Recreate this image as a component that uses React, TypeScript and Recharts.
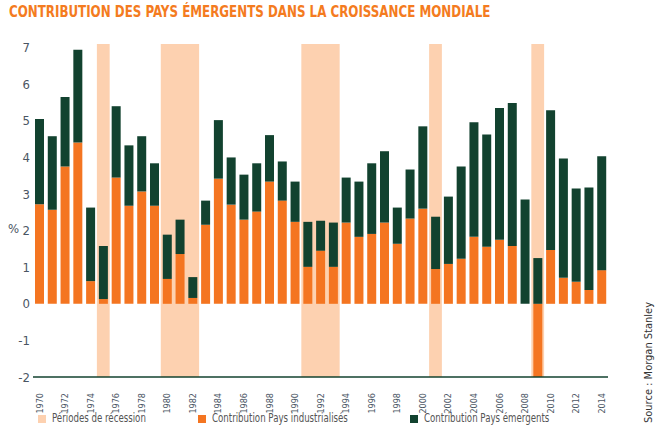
import { BarChart, Bar, XAxis, YAxis, ReferenceArea } from "recharts";

const YEARS = [
  1970, 1971, 1972, 1973, 1974, 1975, 1976, 1977, 1978, 1979,
  1980, 1981, 1982, 1983, 1984, 1985, 1986, 1987, 1988, 1989,
  1990, 1991, 1992, 1993, 1994, 1995, 1996, 1997, 1998, 1999,
  2000, 2001, 2002, 2003, 2004, 2005, 2006, 2007, 2008, 2009,
  2010, 2011, 2012, 2013, 2014,
];

const INDUSTRIALISES = [
  2.72, 2.57, 3.75, 4.41, 0.62, 0.13, 3.45, 2.68, 3.07, 2.68,
  0.68, 1.36, 0.16, 2.16, 3.42, 2.71, 2.3, 2.52, 3.34, 2.82,
  2.24, 1.01, 1.45, 1.01, 2.22, 1.83, 1.91, 2.22, 1.64, 2.33,
  2.6, 0.95, 1.09, 1.23, 1.83, 1.56, 1.75, 1.58, 0, -2.0,
  1.47, 0.71, 0.6, 0.38, 0.92,
];

const EMERGENTS = [
  2.33, 2.01, 1.9, 2.53, 2.01, 1.45, 1.95, 1.65, 1.51, 1.16,
  1.21, 0.94, 0.57, 0.66, 1.6, 1.29, 1.23, 1.32, 1.27, 1.07,
  1.1, 1.23, 0.82, 1.21, 1.23, 1.51, 1.93, 1.95, 0.99, 1.34,
  2.25, 1.43, 1.84, 2.52, 3.13, 3.07, 3.6, 3.91, 2.85, 1.25,
  3.82, 3.26, 2.55, 2.8, 3.11,
];

// recession periods [first year, last year]
const RECESSIONS = [
  [1975, 1975],
  [1980, 1982],
  [1991, 1993],
  [2001, 2001],
  [2009, 2009],
];

const Y_TICKS = [-2, -1, 0, 1, 2, 3, 4, 5, 6, 7];

const LEGEND = [
  { label: "Périodes de récession", color: "#FDD1B0", left: 38 },
  { label: "Contribution Pays industrialisés", color: "#F47521", left: 198 },
  { label: "Contribution Pays émergents", color: "#12422F", left: 410 },
];

const data = YEARS.map((year, i) => ({
  year,
  industrialises: INDUSTRIALISES[i],
  emergents: EMERGENTS[i],
}));

const FONT = "'DejaVu Sans', sans-serif";
const TEXT = "#4a5563";

function YearTick({ x, y, payload }: any) {
  return (
    <g transform={`translate(${x},${y + 8}) rotate(-90)`}>
      <text
        textAnchor="end"
        dy="0.35em"
        fontSize={9}
        fill={TEXT}
        fontFamily={FONT}
        style={{ fontStretch: "condensed" }}
      >
        {payload.value}
      </text>
    </g>
  );
}

export default function App() {
  return (
    <div
      style={{
        position: "absolute",
        left: 0,
        top: 0,
        width: 661,
        height: 431,
        background: "#fff",
        fontFamily: FONT,
        fontStretch: "condensed",
      }}
    >
      <div
        style={{
          position: "absolute",
          left: 9,
          top: 3,
          fontSize: 15,
          fontWeight: 700,
          color: "#F47B20",
          whiteSpace: "nowrap",
          transform: "scaleX(0.88)",
          transformOrigin: "left top",
        }}
      >
        CONTRIBUTION DES PAYS ÉMERGENTS DANS LA CROISSANCE MONDIALE
      </div>

      <span style={{ position: "absolute", left: 8, top: 221, fontSize: 13, color: TEXT }}>%</span>

      <BarChart
        width={661}
        height={431}
        data={data}
        stackOffset="sign"
        barSize={9}
        margin={{ top: 44, right: 53, left: 0, bottom: 24 }}
      >
        {RECESSIONS.map(([a, b]) => (
          <ReferenceArea
            key={a}
            x1={a}
            x2={b}
            fill="#FDD1B0"
            fillOpacity={1}
            stroke="none"
          />
        ))}
        <XAxis
          dataKey="year"
          interval={1}
          height={30}
          tickLine={false}
          axisLine={{ stroke: "#12422F", strokeWidth: 1.5 }}
          tick={<YearTick />}
        />
        <YAxis
          width={33}
          domain={[-2, 7.1]}
          ticks={Y_TICKS}
          tickLine={false}
          axisLine={false}
          tickSize={0}
          tickMargin={3}
          tick={{ fill: TEXT, fontSize: 13, fontFamily: FONT, style: { fontStretch: "condensed" } }}
        />
        <Bar dataKey="industrialises" stackId="a" fill="#F47521" isAnimationActive={false} />
        <Bar dataKey="emergents" stackId="a" fill="#12422F" isAnimationActive={false} />
      </BarChart>

      {LEGEND.map((item) => (
        <div key={item.label}>
          <span
            style={{
              position: "absolute",
              left: item.left,
              top: 415,
              width: 8,
              height: 8,
              background: item.color,
            }}
          />
          <span
            style={{
              position: "absolute",
              left: item.left + 14,
              top: 411,
              fontSize: 12,
              color: "#555",
              whiteSpace: "nowrap",
              transform: "scaleX(0.8)",
              transformOrigin: "left top",
            }}
          >
            {item.label}
          </span>
        </div>
      ))}

      <div
        style={{
          position: "absolute",
          left: 642,
          top: 423,
          transform: "rotate(-90deg)",
          transformOrigin: "left top",
          fontSize: 11,
          color: "#333",
          whiteSpace: "nowrap",
        }}
      >
        Source : Morgan Stanley
      </div>
    </div>
  );
}
